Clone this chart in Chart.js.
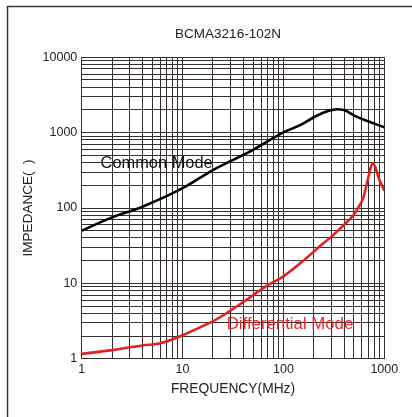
<!DOCTYPE html>
<html>
<head>
<meta charset="utf-8">
<script src="https://cdn.jsdelivr.net/npm/chart.js@4"></script>
<style>
  html, body { margin: 0; padding: 0; background: #fff; }
  #wrap { width: 412px; height: 417px; }
</style>
</head>
<body>
<div id="wrap"><canvas id="impChart" width="412" height="417"></canvas></div>
<script>
// Frequency (MHz) / impedance (ohm)
const freqCommon = [1, 2, 4, 10, 20, 50, 78, 100, 150, 200, 260, 340, 400, 531, 1000];
const zCommon = [50, 75, 104, 183, 319, 590, 840, 1010, 1280, 1600, 1880, 2040, 1990, 1630, 1180];

const freqDiff = [1, 2, 4, 6, 10, 17, 20, 36.5, 67, 100, 155, 210, 312, 400, 492, 560, 618, 692, 765, 820, 871, 1000];
const zDiff = [1.16, 1.3, 1.5, 1.6, 2.05, 2.83, 3.13, 5.2, 9.1, 12.4, 19.6, 28, 44, 60, 80, 105, 135, 250, 392, 340, 260, 170];

const xTickLabels = [1, 10, 100, 1000];
const yTickLabels = [1, 10, 100, 1000, 10000];

const gridColor = '#362f2f';
const font = 'Liberation Sans, Arial, sans-serif';

// 1..9 in every decade between first and last label
function logGrid(decades) {
    const vals = [];
    for (let i = 0; i < decades.length - 1; i++) {
        for (let k = 1; k < 10; k++) vals.push(k * decades[i]);
    }
    vals.push(decades[decades.length - 1]);
    return vals.map((v) => ({ value: v }));
}

const pagePlugin = {
    id: 'page',
    beforeDraw(chart) {
        const ctx = chart.ctx;
        ctx.save();
        ctx.fillStyle = '#fff';
        ctx.fillRect(0, 0, chart.width, chart.height);
        // outer frame (left + top edges)
        ctx.strokeStyle = '#3c3434';
        ctx.lineWidth = 1.5;
        ctx.beginPath();
        ctx.moveTo(7.5, chart.height);
        ctx.lineTo(7.5, 6.5);
        ctx.lineTo(chart.width, 6.5);
        ctx.stroke();
        // title
        const a = chart.chartArea;
        ctx.fillStyle = '#222';
        ctx.font = '13.5px ' + font;
        ctx.textAlign = 'center';
        ctx.textBaseline = 'middle';
        ctx.fillText('BCMA3216-102N', (a.left + a.right) / 2 - 5, 34);
        ctx.restore();
    },
    afterDatasetsDraw(chart) {
        const ctx = chart.ctx;
        const x = chart.scales.x, y = chart.scales.y;
        ctx.save();
        ctx.textAlign = 'left';
        ctx.textBaseline = 'alphabetic';
        ctx.font = '16.4px ' + font;
        ctx.fillStyle = '#111';
        ctx.fillText('Common Mode', x.getPixelForValue(1.54), y.getPixelForValue(340));
        ctx.font = '16.8px ' + font;
        ctx.fillStyle = '#e8262a';
        ctx.fillText('Differential Mode', x.getPixelForValue(27.4), y.getPixelForValue(2.5));
        ctx.restore();
    }
};

const ctx = document.getElementById('impChart').getContext('2d');
new Chart(ctx, {
    type: 'line',
    data: {
        datasets: [
            {
                label: 'Common Mode',
                data: freqCommon.map((f, i) => ({ x: f, y: zCommon[i] })),
                borderColor: '#000',
                borderWidth: 2.6,
                pointRadius: 0,
                cubicInterpolationMode: 'monotone',
            },
            {
                label: 'Differential Mode',
                data: freqDiff.map((f, i) => ({ x: f, y: zDiff[i] })),
                borderColor: '#e3201f',
                borderWidth: 2.6,
                pointRadius: 0,
                cubicInterpolationMode: 'monotone',
            },
        ],
    },
    options: {
        responsive: false,
        animation: false,
        layout: { padding: { left: 0, right: 27.7, top: 57.3, bottom: 0 } },
        plugins: {
            legend: { display: false },
            title: { display: false },
            tooltip: { enabled: false },
        },
        scales: {
            x: {
                type: 'logarithmic',
                min: 1,
                max: 1000,
                afterBuildTicks: (s) => { s.ticks = logGrid(xTickLabels); },
                afterFit: (s) => { s.height = 58.3; },
                grid: { color: gridColor, lineWidth: 1, drawTicks: false },
                border: { display: true, color: gridColor, width: 1 },
                ticks: {
                    autoSkip: false,
                    maxRotation: 0,
                    padding: 3,
                    color: '#222',
                    font: { family: font, size: 12.5 },
                    callback: (v) => (xTickLabels.includes(v) ? String(v) : ''),
                },
                title: {
                    display: true,
                    text: 'FREQUENCY(MHz)',
                    color: '#222',
                    font: { family: font, size: 13.8 },
                    padding: { top: 0, bottom: 20 },
                },
            },
            y: {
                type: 'logarithmic',
                min: 1,
                max: 10000,
                afterBuildTicks: (s) => { s.ticks = logGrid(yTickLabels); },
                afterFit: (s) => { s.width = 81.7; },
                grid: { color: gridColor, lineWidth: 1, drawTicks: false },
                border: { display: true, color: gridColor, width: 1 },
                ticks: {
                    autoSkip: false,
                    padding: 4.4,
                    color: '#222',
                    font: { family: font, size: 12.5 },
                    callback: (v) => (yTickLabels.includes(v) ? String(v) : ''),
                },
                title: {
                    display: true,
                    text: 'IMPEDANCE(  )',
                    color: '#222',
                    font: { family: font, size: 13.5 },
                    padding: { top: 20, bottom: 0 },
                },
            },
        },
    },
    plugins: [pagePlugin],
});
</script>
</body>
</html>
